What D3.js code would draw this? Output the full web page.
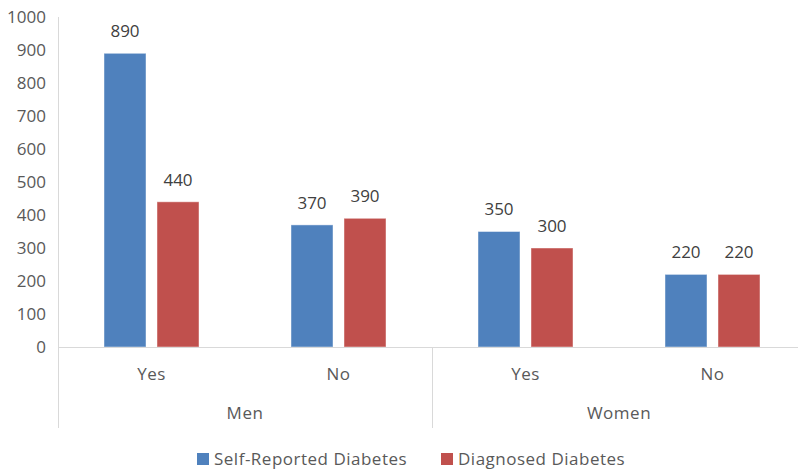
<!DOCTYPE html>
<html>
<head>
<meta charset="utf-8">
<script src="https://cdn.jsdelivr.net/npm/d3@7"></script>
<style>
  html, body { margin: 0; padding: 0; background: #fff; }
  svg { display: block; font-family: "Open Sans", Lato, sans-serif; }
</style>
</head>
<body>
<svg id="chart" width="798" height="470"></svg>
<script>
// Diabetes counts by sex and answer
const groups = ["Men", "Women"];
const answers = ["Yes", "No"];
const categories = [["Men", "Yes"], ["Men", "No"], ["Women", "Yes"], ["Women", "No"]];
const seriesNames = ["Self-Reported Diabetes", "Diagnosed Diabetes"];
const selfReported = [890, 370, 350, 220];
const diagnosed = [440, 390, 300, 220];
const yTicks = [0, 100, 200, 300, 400, 500, 600, 700, 800, 900, 1000];
const colors = ["#4f81bd", "#c0504d"];

(function draw() {
  const svg = d3.select("#chart");
  const W = 798;
  const plotLeft = 58, plotRight = 806, plotTop = 17, base = 347;

  const x0 = d3.scaleBand()
    .domain(categories.map(d => d.join("|")))
    .range([plotLeft, plotRight])
    .paddingInner(0).paddingOuter(0);

  const x1 = d3.scaleBand()
    .domain(seriesNames)
    .range([0, x0.bandwidth()])
    .paddingInner(0.2075)
    .paddingOuter(0.868);

  const y = d3.scaleLinear().domain([0, 1000]).range([base, plotTop]);

  const axisColor = "#d9d9d9";
  const textColor = "#595959";
  const spacing = 0.5;

  // y axis labels
  svg.append("g").selectAll("text").data(yTicks).join("text")
    .attr("x", 46).attr("y", d => y(d)).attr("dy", "0.35em")
    .attr("text-anchor", "end").attr("font-size", 17).attr("fill", textColor)
    .text(d => d);

  // vertical axis line
  svg.append("line").attr("x1", plotLeft + 0.5).attr("x2", plotLeft + 0.5)
    .attr("y1", y(1000)).attr("y2", 428)
    .attr("stroke", axisColor).attr("stroke-width", 1);

  // bars
  const data = categories.map((c, i) => ({
    key: c.join("|"),
    values: [selfReported[i], diagnosed[i]]
  }));

  const catG = svg.append("g").selectAll("g").data(data).join("g")
    .attr("transform", d => `translate(${x0(d.key)},0)`);

  catG.selectAll("rect").data(d => d.values.map((v, j) => ({ v, s: seriesNames[j], j })))
    .join("rect")
    .attr("x", d => x1(d.s))
    .attr("width", x1.bandwidth())
    .attr("y", d => y(d.v))
    .attr("height", d => base - y(d.v))
    .attr("fill", d => colors[d.j])
    .attr("stroke", "#ffffff").attr("stroke-opacity", 0.45).attr("stroke-width", 1);

  catG.selectAll("text.val").data(d => d.values.map((v, j) => ({ v, s: seriesNames[j] })))
    .join("text").attr("class", "val")
    .attr("x", d => x1(d.s) + x1.bandwidth() / 2)
    .attr("y", d => y(d.v) - 22).attr("dy", "0.35em")
    .attr("text-anchor", "middle").attr("font-size", 17).attr("fill", "#404040")
    .text(d => d.v);

  // baseline
  svg.append("line").attr("x1", plotLeft).attr("x2", W)
    .attr("y1", base + 0.5).attr("y2", base + 0.5)
    .attr("stroke", axisColor).attr("stroke-width", 1);

  // answer labels
  svg.append("g").selectAll("text").data(categories).join("text")
    .attr("x", d => x0(d.join("|")) + x0.bandwidth() / 2)
    .attr("y", 374).attr("dy", "0.35em")
    .attr("text-anchor", "middle").attr("font-size", 17).attr("fill", textColor)
    .attr("letter-spacing", spacing)
    .text(d => d[1]);

  // group labels and separators
  const groupStart = g => x0(categories.find(c => c[0] === g).join("|"));
  groups.forEach(g => {
    const gx = groupStart(g);
    svg.append("line").attr("x1", gx + 0.5).attr("x2", gx + 0.5)
      .attr("y1", base).attr("y2", 428)
      .attr("stroke", axisColor).attr("stroke-width", 1);
    svg.append("text")
      .attr("x", gx + x0.bandwidth())
      .attr("y", 413).attr("dy", "0.35em")
      .attr("text-anchor", "middle").attr("font-size", 17).attr("fill", textColor)
      .attr("letter-spacing", spacing)
      .text(g);
  });

  // legend
  const legendPos = [197, 441];
  seriesNames.forEach((s, i) => {
    const lg = svg.append("g").attr("transform", `translate(${legendPos[i]},453)`);
    lg.append("rect").attr("width", 12).attr("height", 12).attr("fill", colors[i]);
    lg.append("text").attr("x", 17).attr("y", 6).attr("dy", "0.35em")
      .attr("font-size", 17).attr("fill", textColor)
      .attr("letter-spacing", spacing)
      .text(s);
  });
})();
</script>
</body>
</html>
